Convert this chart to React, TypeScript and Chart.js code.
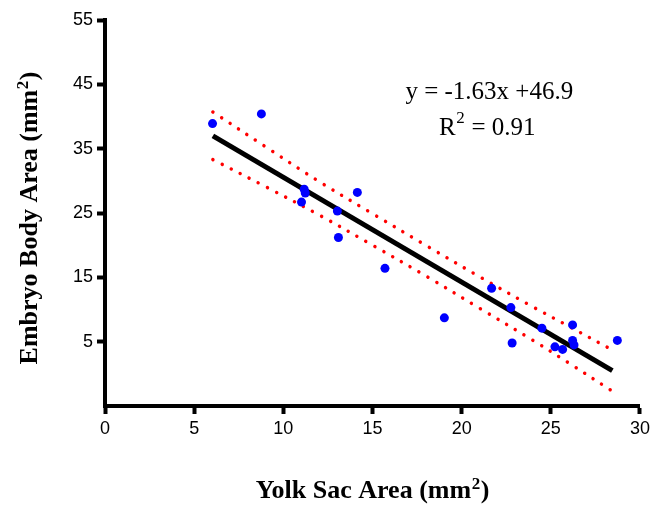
import React, { useEffect, useRef } from "react";
import { Chart, registerables } from "chart.js";

Chart.register(...registerables);

// Measured data points (Yolk Sac Area, Embryo Body Area)
const yolkSac = [6.03, 8.77, 11.17, 11.23, 11.02, 14.15, 13.03, 13.09, 15.7, 19.03, 21.68, 22.76, 22.83, 24.5, 25.23, 25.66, 26.22, 26.22, 26.3, 28.73];
const embryoBody = [38.9, 40.4, 28.7, 28.1, 26.7, 28.2, 25.3, 21.2, 16.4, 8.7, 13.3, 10.3, 4.8, 7.1, 4.2, 3.8, 7.6, 5.2, 4.5, 5.2];

// Regression line endpoints (y = -1.63x + 46.9)
const fitX = [6.05, 28.45];
const fitY = [37.0, 0.5];

// Confidence band
const bandX = [6.05, 9, 12, 15, 18, 21, 24, 26, 28.45];
const bandUpper = [40.7, 35.3, 29.9, 24.9, 19.96, 15.1, 10.4, 7.4, 3.7];
const bandLower = [33.3, 29.1, 24.7, 20.0, 15.2, 10.2, 5.2, 1.7, -2.7];

const xTicks = [0, 5, 10, 15, 20, 25, 30];
const yTickMin = -5;
const yTickMax = 55;

// Text pieces: [normal, superscript, normal]
const equationText = ["y = -1.63x +46.9", "", ""];
const rSquaredText = ["R", "2", " = 0.91"];
const xTitle = ["Yolk Sac Area (mm", "2", ")"];
const yTitle = ["Embryo Body Area (mm", "2", ")"];

function drawRich(
  ctx: CanvasRenderingContext2D,
  parts: string[],
  cx: number,
  baseline: number,
  rot: number,
  mainFont: string,
  supFont: string,
  raise: number
) {
  ctx.save();
  ctx.translate(cx, baseline);
  ctx.rotate(rot);
  ctx.fillStyle = "#000";
  ctx.textBaseline = "alphabetic";
  ctx.textAlign = "left";
  ctx.font = mainFont;
  const w0 = ctx.measureText(parts[0]).width;
  const w2 = ctx.measureText(parts[2]).width;
  ctx.font = supFont;
  const w1 = parts[1] ? ctx.measureText(parts[1]).width + 1 : 0;
  const total = w0 + w1 + w2;
  let x = -total / 2;
  ctx.font = mainFont;
  ctx.fillText(parts[0], x, 0);
  x += w0;
  if (parts[1]) {
    ctx.font = supFont;
    ctx.fillText(parts[1], x + 0.5, -raise);
    x += w1;
  }
  ctx.font = mainFont;
  ctx.fillText(parts[2], x, 0);
  ctx.restore();
}

export default function App() {
  const ref = useRef<HTMLCanvasElement | null>(null);

  useEffect(() => {
    if (!ref.current) return;
    const pts = yolkSac.map((x, i) => ({ x, y: embryoBody[i] }));
    const fit = fitX.map((x, i) => ({ x, y: fitY[i] }));
    const up = bandX.map((x, i) => ({ x, y: bandUpper[i] }));
    const lo = bandX.map((x, i) => ({ x, y: bandLower[i] }));

    const textPlugin = {
      id: "texts",
      afterDraw(chart: any) {
        const { ctx, scales, chartArea } = chart;
        const serif = "'Liberation Serif', 'Times New Roman', serif";
        // annotation
        const ax = scales.x.getPixelForValue(21.55);
        drawRich(ctx, equationText, ax, scales.y.getPixelForValue(42.7), 0, `25px ${serif}`, `17px ${serif}`, 12);
        drawRich(ctx, rSquaredText, ax - 2, scales.y.getPixelForValue(37.1), 0, `25px ${serif}`, `17px ${serif}`, 12);
        // axis titles
        const midX = (chartArea.left + chartArea.right) / 2;
        drawRich(ctx, xTitle, midX, 498, 0, `bold 26px ${serif}`, `bold 17px ${serif}`, 9);
        drawRich(ctx, yTitle, 37, 218, -Math.PI / 2, `bold 26px ${serif}`, `bold 17px ${serif}`, 9);
      },
    };

    const dotted = {
      showLine: true,
      pointRadius: 0,
      borderColor: "#ff0000",
      borderWidth: 3.5,
      borderDash: [0.01, 10.2],
      borderCapStyle: "round" as const,
      tension: 0.35,
      fill: false,
      order: 2,
    };

    const chart = new Chart(ref.current, {
      type: "scatter",
      data: {
        datasets: [
          {
            data: pts,
            backgroundColor: "#0000ff",
            borderColor: "#0000ff",
            pointRadius: 4.5,
            pointBorderWidth: 0,
            order: 0,
          },
          {
            data: fit,
            showLine: true,
            pointRadius: 0,
            borderColor: "#000",
            borderWidth: 5,
            borderCapStyle: "butt",
            order: 1,
          },
          { data: up, ...dotted },
          { data: lo, ...dotted },
        ],
      },
      options: {
        responsive: false,
        animation: false,
        devicePixelRatio: 1,
        layout: { padding: { top: 20, right: 9, left: 0, bottom: 0 } },
        plugins: { legend: { display: false }, tooltip: { enabled: false } },
        scales: {
          x: {
            type: "linear",
            min: xTicks[0],
            max: xTicks[xTicks.length - 1],
            afterFit(s: any) {
              s.height = 99;
            },
            afterBuildTicks(s: any) {
              s.ticks = xTicks.map((v) => ({ value: v }));
            },
            border: { display: true, color: "#000", width: 4 },
            grid: {
              drawOnChartArea: false,
              drawTicks: true,
              tickLength: 8,
              tickWidth: 4,
              tickColor: "#000",
            },
            ticks: {
              color: "#000",
              padding: 4,
              font: { family: "'Liberation Sans', Arial, sans-serif", size: 18 },
            },
          },
          y: {
            type: "linear",
            min: yTickMin,
            max: yTickMax,
            afterFit(s: any) {
              s.width = 105;
            },
            ticks: {
              stepSize: 10,
              color: "#000",
              padding: 4,
              font: { family: "'Liberation Sans', Arial, sans-serif", size: 18 },
              callback: (v: any) => (v === yTickMin ? "" : String(v)),
            },
            border: { display: true, color: "#000", width: 4 },
            grid: {
              drawOnChartArea: false,
              drawTicks: true,
              tickLength: 8,
              tickWidth: 4,
              tickColor: (c: any) => (c.tick && c.tick.value === yTickMin ? "rgba(0,0,0,0)" : "#000"),
            },
          },
        },
      },
      plugins: [textPlugin],
    } as any);
    return () => chart.destroy();
  }, []);

  return (
    <div style={{ position: "fixed", left: 0, top: 0, width: 654, height: 505, background: "#fff" }}>
      <canvas ref={ref} width={654} height={505} style={{ width: 654, height: 505, display: "block" }} />
    </div>
  );
}
